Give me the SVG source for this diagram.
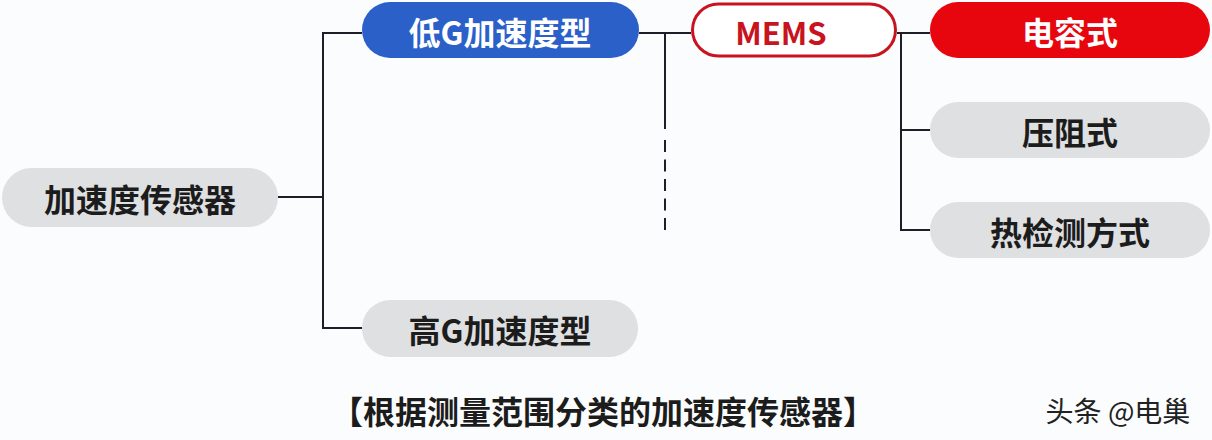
<svg xmlns="http://www.w3.org/2000/svg" width="1212" height="440" viewBox="0 0 1212 440">
  <style>
    .lbl { font-family: "Noto Sans CJK SC", "Noto Sans", sans-serif; font-weight: bold; font-size: 32px; text-anchor: middle; dominant-baseline: central; }
    .gray rect { fill: #dfe0e2; }
    .gray text { fill: #1c1c1c; }
    .wire { fill: none; stroke: #1e1e28; stroke-width: 2; }
  </style>
  <rect x="0" y="0" width="1212" height="440" fill="#fbfcfd"/>
  <g id="connectors">
    <path class="wire" d="M278 197 H323 M362 33 H323 V328 H362"/>
    <path class="wire" d="M639 33 H691 M665 33 V129"/>
    <path class="wire" d="M665 140 V231" stroke-dasharray="12 7.5"/>
    <path class="wire" d="M897 33 H930 M901 33 V230 H930 M901 130 H930"/>
  </g>
  <g id="n-root" class="gray">
    <rect x="2" y="168" width="276" height="59" rx="29.5"/>
    <text class="lbl" x="140" y="198">加速度传感器</text>
  </g>
  <g id="n-lowg">
    <rect x="362" y="2" width="277" height="56" rx="28" fill="#2c60c9"/>
    <text class="lbl" x="500" y="31" fill="#ffffff">低G加速度型</text>
  </g>
  <g id="n-highg" class="gray">
    <rect x="362" y="300" width="276" height="57" rx="28.5"/>
    <text class="lbl" x="500" y="329">高G加速度型</text>
  </g>
  <g id="n-mems">
    <rect x="692.5" y="4" width="203" height="52" rx="26" fill="#ffffff" stroke="#c8141e" stroke-width="3"/>
    <text class="lbl" x="781" y="31" fill="#c8141e" style="font-size:31px">MEMS</text>
  </g>
  <g id="n-cap">
    <rect x="930" y="2" width="280" height="56" rx="28" fill="#e8060e"/>
    <text class="lbl" x="1070" y="31" fill="#ffffff">电容式</text>
  </g>
  <g id="n-piezo" class="gray">
    <rect x="930" y="102" width="280" height="56" rx="28"/>
    <text class="lbl" x="1070" y="131">压阻式</text>
  </g>
  <g id="n-thermal" class="gray">
    <rect x="930" y="202" width="280" height="56" rx="28"/>
    <text class="lbl" x="1070" y="231">热检测方式</text>
  </g>
  <text class="lbl" x="603" y="410" fill="#1c1c1c">【根据测量范围分类的加速度传感器】</text>
  <text x="1118" y="410" font-family="Noto Sans CJK SC, sans-serif" font-size="28" fill="#222222" text-anchor="middle" dominant-baseline="central">头条 @电巢</text>
</svg>
